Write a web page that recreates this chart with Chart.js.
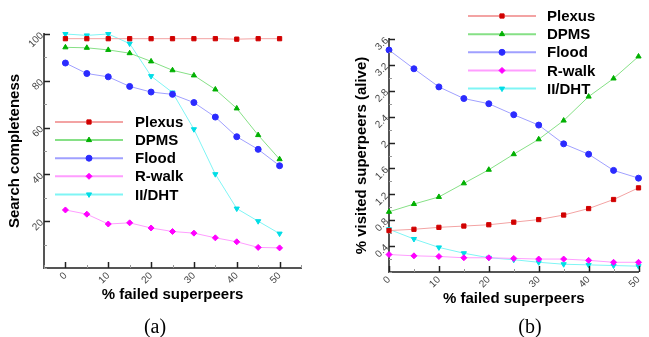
<!DOCTYPE html>
<html>
<head>
<meta charset="utf-8">
<script src="https://cdn.jsdelivr.net/npm/chart.js@4.4.0/dist/chart.umd.min.js"></script>
<style>
  html, body { margin: 0; padding: 0; background: #fff; }
  #wrap { position: relative; width: 649px; height: 337px; overflow: hidden; background: #fff; }
  .box { position: absolute; top: 0; height: 337px; }
  #boxA { left: 0; width: 325px; }
  #boxB { left: 325px; width: 324px; }
  .cap { position: absolute; top: 315px; width: 60px; text-align: center;
         font-family: "Liberation Serif", "Times New Roman", serif; font-size: 20px; line-height: 22px; color: #000; }
</style>
</head>
<body>
<div id="wrap">
  <div class="box" id="boxA"><canvas id="chartA"></canvas></div>
  <div class="box" id="boxB"><canvas id="chartB"></canvas></div>
  <div class="cap" style="left:125px">(a)</div>
  <div class="cap" style="left:500px">(b)</div>
</div>
<script>
// x values: % failed superpeers
const failedPct = [0, 5, 10, 15, 20, 25, 30, 35, 40, 45, 50];

// (a) search completeness
const plexusA = [98, 98, 98, 98, 98, 98, 98, 98, 97.8, 98, 98];
const dpmsA   = [94.3, 94.1, 93.2, 91.8, 88.3, 84.5, 82.3, 76.3, 68.2, 56.8, 46.5];
const floodA  = [87.6, 83.1, 81.7, 77.6, 75.2, 74.2, 70.7, 64.5, 56.1, 50.7, 43.7];
const rwalkA  = [24.8, 23.0, 18.8, 19.3, 17.1, 15.6, 14.9, 12.9, 11.2, 8.8, 8.6];
const dhtA    = [100, 99.4, 100, 95.9, 82, 75, 59.3, 40.1, 25.4, 20.0, 14.7];

// (b) % visited superpeers (alive)
const plexusB = [0.64, 0.66, 0.69, 0.71, 0.73, 0.77, 0.81, 0.88, 0.98, 1.12, 1.30];
const dpmsB   = [0.93, 1.05, 1.16, 1.37, 1.58, 1.82, 2.05, 2.34, 2.71, 2.99, 3.33];
const floodB  = [3.43, 3.14, 2.86, 2.68, 2.60, 2.43, 2.27, 1.98, 1.82, 1.57, 1.45];
const rwalkB  = [0.27, 0.25, 0.24, 0.22, 0.22, 0.21, 0.20, 0.20, 0.18, 0.15, 0.15];
const dhtB    = [0.66, 0.51, 0.38, 0.29, 0.22, 0.19, 0.15, 0.12, 0.11, 0.10, 0.09];

const seriesNames = ['Plexus', 'DPMS', 'Flood', 'R-walk', 'II/DHT'];

// line colour, marker colour, marker shape per series
const styles = [
  { line: '#f3a3a3', mark: '#d10000', shape: 'rect', r: 3, rot: 0 },
  { line: '#86e086', mark: '#00b000', shape: 'triangle', r: 3, rot: 0 },
  { line: '#a0a0ff', mark: '#2b2bff', shape: 'circle', r: 3, rot: 0 },
  { line: '#ff9dff', mark: '#ff00ff', shape: 'rectRot', r: 3, rot: 0 },
  { line: '#7ff5f5', mark: '#00dde6', shape: 'triangle', r: 3, rot: 180 },
];

function makeDatasets(values) {
  return values.map((vals, i) => ({
    label: seriesNames[i],
    data: failedPct.map((x, k) => ({ x: x, y: vals[k] })),
    borderColor: styles[i].line,
    borderWidth: 1,
    pointStyle: styles[i].shape,
    pointRotation: styles[i].rot,
    pointRadius: styles[i].r,
    pointBackgroundColor: styles[i].mark,
    pointBorderColor: styles[i].mark,
    pointBorderWidth: 1,
    tension: 0,
    clip: false,
  }));
}

// small tick marks drawn inside the plot area, long ones where a label is shown
const innerTicks = {
  id: 'innerTicks',
  afterDraw(chart) {
    const { ctx, chartArea } = chart;
    ctx.save();
    Object.values(chart.scales).forEach(scale => {
      scale.ticks.forEach(t => {
        const major = t.label !== '' && t.label !== undefined;
        ctx.strokeStyle = major ? '#222' : '#999';
        ctx.lineWidth = major ? 1.5 : 1;
        const len = major ? 6 : 3;
        ctx.beginPath();
        if (scale.axis === 'x') {
          const px = Math.round(scale.getPixelForValue(t.value)) + 0.5;
          ctx.moveTo(px, chartArea.bottom);
          ctx.lineTo(px, chartArea.bottom - len);
        } else {
          const py = Math.round(scale.getPixelForValue(t.value)) + 0.5;
          ctx.moveTo(chartArea.left, py);
          ctx.lineTo(chartArea.left + len, py);
        }
        ctx.stroke();
      });
    });
    ctx.restore();
  }
};

// legend with a line sample and the marker in its middle
const lineLegend = {
  id: 'lineLegend',
  afterDraw(chart, args, opts) {
    const ctx = chart.ctx;
    ctx.save();
    chart.data.datasets.forEach((ds, i) => {
      const y = opts.top + i * opts.rowH;
      ctx.strokeStyle = ds.borderColor;
      ctx.lineWidth = 2;
      ctx.beginPath();
      ctx.moveTo(opts.x1, y);
      ctx.lineTo(opts.x2, y);
      ctx.stroke();
      ctx.fillStyle = ds.pointBackgroundColor;
      ctx.strokeStyle = ds.pointBorderColor;
      ctx.lineWidth = 1;
      Chart.helpers.drawPoint(ctx, {
        pointStyle: ds.pointStyle, rotation: ds.pointRotation,
        radius: ds.pointRadius, borderWidth: 1
      }, (opts.x1 + opts.x2) / 2, y);
      ctx.fillStyle = '#000';
      ctx.font = 'bold 15px "Liberation Sans", Arial, sans-serif';
      ctx.textBaseline = 'middle';
      ctx.textAlign = 'left';
      ctx.fillText(ds.label, opts.textX, y + 1);
    });
    ctx.restore();
  }
};

const tickFont = { family: '"Liberation Sans", Arial, sans-serif', size: 10 };
const titleFont = { family: '"Liberation Sans", Arial, sans-serif', size: 15, weight: 'bold' };

function axisX(min, max, w) {
  return {
    type: 'linear', min: min, max: max,
    grid: { display: false, drawTicks: false },
    border: { color: '#555', width: 2 },
    ticks: {
      stepSize: 5, autoSkip: false, minRotation: 45, maxRotation: 45,
      font: tickFont, color: '#444', padding: 2,
      callback: v => (v % 10 === 0 && v >= 0 && v <= 50) ? String(v) : ''
    },
    title: { display: true, text: '% failed superpeers', font: titleFont, color: '#000', padding: { top: 4, bottom: 4 } },
    afterFit: s => { s.height = w; }
  };
}

function axisY(min, max, step, title, w, titlePad, fmt) {
  return {
    min: min, max: max,
    grid: { display: false, drawTicks: false },
    border: { color: '#555', width: 2 },
    ticks: {
      stepSize: step, autoSkip: false, minRotation: 45, maxRotation: 45,
      font: tickFont, color: '#444', padding: 2,
      callback: fmt
    },
    title: { display: true, text: title, font: titleFont, color: '#000', padding: { top: titlePad, bottom: 4 } },
    afterFit: s => { s.width = w; }
  };
}

const chartA = new Chart(document.getElementById('chartA'), {
  type: 'line',
  data: { datasets: makeDatasets([plexusA, dpmsA, floodA, rwalkA, dhtA]) },
  options: {
    responsive: true, maintainAspectRatio: false, animation: false,
    layout: { padding: { left: 0, top: 34, right: 24, bottom: 29 } },
    scales: {
      x: axisX(-5, 55, 40),
      y: axisY(0, 100, 10, 'Search completeness', 44, 6,
        v => (v > 0 && v % 20 === 0) ? String(v) : '')
    },
    plugins: {
      legend: { display: false },
      tooltip: { enabled: false },
      lineLegend: { x1: 55, x2: 123, textX: 135, top: 122, rowH: 18.1 }
    }
  },
  plugins: [innerTicks, lineLegend]
});

const chartB = new Chart(document.getElementById('chartB'), {
  type: 'line',
  data: { datasets: makeDatasets([plexusB, dpmsB, floodB, rwalkB, dhtB]) },
  options: {
    responsive: true, maintainAspectRatio: false, animation: false,
    layout: { padding: { left: 0, top: 39, right: 3, bottom: 25 } },
    scales: {
      x: axisX(0, 50, 40),
      y: axisY(0, 3.6, 0.2, '% visited superpeers (alive)', 64, 28,
        (v, i) => (i > 0 && i % 2 === 0) ? String(Number(v.toFixed(1))) : '')
    },
    plugins: {
      legend: { display: false },
      tooltip: { enabled: false },
      lineLegend: { x1: 143, x2: 211, textX: 222, top: 16, rowH: 18.15 }
    }
  },
  plugins: [innerTicks, lineLegend]
});
</script>
</body>
</html>
